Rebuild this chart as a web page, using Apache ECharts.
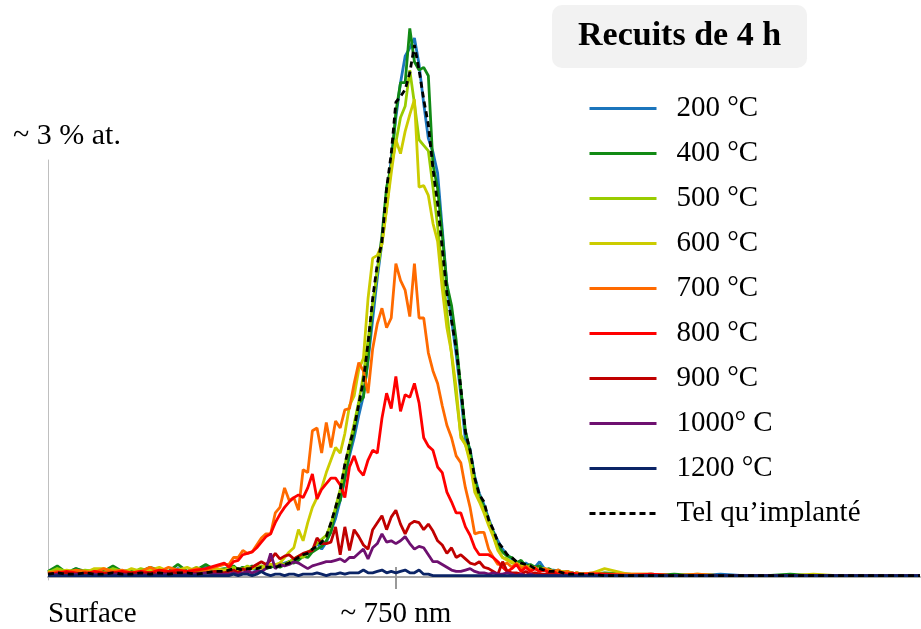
<!DOCTYPE html>
<html>
<head>
<meta charset="utf-8">
<script src="https://cdn.jsdelivr.net/npm/echarts@6/dist/echarts.min.js"></script>
<style>
  html, body { margin: 0; padding: 0; background: #fff; }
  #chart { width: 921px; height: 629px; }
</style>
</head>
<body>
<div id="chart"></div>
<script>
// profondeur (nm)
var depth = [
  0, 20, 40, 60, 80, 100, 120, 140, 160, 180, 200, 220, 240, 260, 280, 300, 320, 340, 360, 380,
  390, 400, 410, 420, 430, 440, 450, 460, 470, 480,
  490, 500, 510, 520, 530, 540, 550, 560, 570, 580,
  590, 600, 610, 620, 630, 640, 650, 660, 670, 680,
  690, 700, 710, 720, 730, 740, 750, 760, 770, 780,
  790, 800, 810, 820, 830, 840, 850, 860, 870, 880,
  890, 900, 910, 920, 930, 940, 950, 960, 970, 980,
  990, 1000, 1010, 1020, 1030, 1040, 1050, 1060, 1070, 1080,
  1090, 1100, 1110, 1120, 1130, 1140, 1150,
  1175, 1200, 1250, 1300, 1350, 1400, 1450, 1500, 1550, 1600, 1650, 1700, 1750, 1800, 1850, 1880
];

// concentrations (% at.)
var c200 = [
  0.03, 0.05, 0.02, 0.06, 0.03, 0.04, 0.03, 0.06, 0.03, 0.04, 0.03, 0.06, 0.04, 0.03, 0.06, 0.04, 0.04, 0.07, 0.04, 0.05,
  0.04, 0.06, 0.05, 0.07, 0.05, 0.06, 0.05, 0.07, 0.06, 0.08,
  0.07, 0.09, 0.1, 0.11, 0.12, 0.14, 0.16, 0.17, 0.19, 0.24,
  0.2, 0.25, 0.33, 0.42, 0.55, 0.7, 0.87, 1.0, 1.16, 1.3,
  1.55, 1.85, 2.15, 2.4, 2.7, 3.0, 3.3, 3.55, 3.74, 3.8,
  3.87, 3.68, 3.4, 3.15, 3.05, 2.9, 2.5, 2.1, 1.85, 1.6,
  1.31, 0.98, 0.92, 0.72, 0.6, 0.52, 0.42, 0.33, 0.26, 0.2,
  0.16, 0.13, 0.11, 0.09, 0.1, 0.08, 0.07, 0.11, 0.06, 0.05,
  0.05, 0.04, 0.04, 0.03, 0.03, 0.02, 0.02,
  0.02, 0.02, 0.01, 0.02, 0.01, 0.01, 0.02, 0.01, 0.01, 0.01, 0.01, 0.01, 0.01, 0.01, 0.01, 0.01
];
var c400 = [
  0.04, 0.08, 0.03, 0.06, 0.04, 0.05, 0.04, 0.08, 0.04, 0.05, 0.04, 0.07, 0.05, 0.04, 0.09, 0.04, 0.05, 0.09, 0.05, 0.06,
  0.06, 0.08, 0.05, 0.07, 0.06, 0.08, 0.06, 0.07, 0.06, 0.07,
  0.08, 0.07, 0.09, 0.11, 0.1, 0.12, 0.15, 0.14, 0.18, 0.2,
  0.22, 0.26, 0.32, 0.48, 0.55, 0.72, 0.9, 1.05, 1.25, 1.29,
  1.57, 1.95, 2.2, 2.45, 2.8, 2.95, 3.34, 3.55, 3.55, 3.94,
  3.7, 3.64, 3.66, 3.6, 2.96, 2.79, 2.46, 2.1, 1.95, 1.7,
  1.35, 1.05, 0.9, 0.7, 0.58, 0.5, 0.4, 0.32, 0.22, 0.18,
  0.15, 0.14, 0.1, 0.12, 0.08, 0.09, 0.07, 0.08, 0.05, 0.06,
  0.04, 0.05, 0.03, 0.04, 0.02, 0.03, 0.02,
  0.02, 0.03, 0.02, 0.01, 0.02, 0.01, 0.01, 0.01, 0.01, 0.02, 0.01, 0.01, 0.01, 0.01, 0.01, 0.01
];
var c500 = [
  0.03, 0.06, 0.04, 0.03, 0.05, 0.04, 0.03, 0.06, 0.04, 0.03, 0.06, 0.04, 0.06, 0.03, 0.05, 0.04, 0.07, 0.04, 0.05, 0.05,
  0.05, 0.07, 0.05, 0.06, 0.08, 0.06, 0.07, 0.08, 0.07, 0.09,
  0.08, 0.1, 0.09, 0.11, 0.13, 0.15, 0.14, 0.18, 0.2, 0.24,
  0.27, 0.3, 0.38, 0.5, 0.63, 0.8, 0.95, 1.1, 1.26, 1.45,
  1.7, 1.95, 2.2, 2.4, 2.65, 2.95, 3.12, 3.3, 3.38, 3.64,
  3.4, 3.14, 3.1, 3.06, 2.8, 2.52, 2.2, 1.9, 1.6, 1.3,
  1.02, 0.95, 0.85, 0.65, 0.55, 0.48, 0.41, 0.3, 0.2, 0.14,
  0.13, 0.1, 0.1, 0.08, 0.07, 0.08, 0.06, 0.05, 0.06, 0.05,
  0.04, 0.04, 0.03, 0.04, 0.03, 0.02, 0.02,
  0.02, 0.02, 0.02, 0.01, 0.01, 0.02, 0.01, 0.01, 0.01, 0.01, 0.01, 0.01, 0.01, 0.01, 0.01, 0.01
];
var c600 = [
  0.04, 0.03, 0.05, 0.04, 0.03, 0.06, 0.06, 0.04, 0.03, 0.06, 0.04, 0.05, 0.07, 0.04, 0.05, 0.07, 0.04, 0.05, 0.06, 0.05,
  0.06, 0.04, 0.06, 0.05, 0.07, 0.06, 0.08, 0.06, 0.09, 0.09,
  0.09, 0.1, 0.14, 0.18, 0.21, 0.34, 0.26, 0.39, 0.5, 0.57,
  0.64, 0.75, 0.84, 0.93, 0.89, 1.03, 1.23, 1.3, 1.49, 1.57,
  2.0, 2.29, 2.31, 2.39, 2.64, 2.9, 3.14, 3.04, 3.2, 3.32,
  3.43, 2.8, 2.81, 2.74, 2.54, 2.41, 2.07, 1.79, 1.61, 1.36,
  1.0, 0.95, 0.82, 0.61, 0.54, 0.46, 0.37, 0.29, 0.19, 0.14,
  0.12, 0.11, 0.09, 0.09, 0.07, 0.06, 0.06, 0.05, 0.06, 0.04,
  0.04, 0.04, 0.04, 0.03, 0.02, 0.03, 0.02,
  0.03, 0.06, 0.02, 0.02, 0.01, 0.01, 0.01, 0.01, 0.01, 0.01, 0.02, 0.01, 0.01, 0.01, 0.01, 0.01
];
var c700 = [
  0.03, 0.04, 0.03, 0.05, 0.04, 0.03, 0.06, 0.04, 0.05, 0.03, 0.04, 0.07, 0.04, 0.07, 0.05, 0.04, 0.06, 0.05, 0.07, 0.09,
  0.09, 0.14, 0.14, 0.19, 0.17, 0.18, 0.23, 0.28, 0.31, 0.31,
  0.46, 0.5, 0.64, 0.55, 0.57, 0.48, 0.77, 0.75, 1.05, 1.07,
  0.89, 1.11, 0.93, 1.12, 1.07, 1.2, 1.21, 1.39, 1.54, 1.48,
  1.32, 1.64, 1.82, 1.93, 1.79, 1.86, 2.25, 2.13, 2.06, 1.87,
  2.25, 1.86, 1.86, 1.61, 1.48, 1.39, 1.23, 1.09, 1.0, 0.87,
  0.82, 0.64, 0.5, 0.31, 0.32, 0.32, 0.2, 0.14, 0.09, 0.09,
  0.1, 0.07, 0.1, 0.06, 0.08, 0.05, 0.07, 0.04, 0.06, 0.05,
  0.04, 0.05, 0.03, 0.04, 0.02, 0.03, 0.02,
  0.03, 0.02, 0.02, 0.02, 0.01, 0.02, 0.01, 0.01, 0.01, 0.01, 0.01, 0.01, 0.01, 0.01, 0.01, 0.01
];
var c800 = [
  0.02, 0.03, 0.04, 0.03, 0.02, 0.04, 0.03, 0.03, 0.04, 0.03, 0.04, 0.03, 0.05, 0.04, 0.05, 0.04, 0.05, 0.06, 0.08, 0.1,
  0.07, 0.11, 0.12, 0.16, 0.17, 0.18, 0.21, 0.25, 0.29, 0.31,
  0.39, 0.45, 0.5, 0.54, 0.57, 0.59, 0.57, 0.64, 0.74, 0.56,
  0.63, 0.67, 0.71, 0.71, 0.66, 0.57, 0.79, 0.87, 0.77, 0.73,
  0.84, 0.91, 0.89, 1.14, 1.32, 1.21, 1.44, 1.19, 1.31, 1.29,
  1.39, 1.25, 1.0, 0.94, 0.91, 0.79, 0.75, 0.61, 0.54, 0.46,
  0.46, 0.36, 0.3, 0.21, 0.16, 0.16, 0.16, 0.14, 0.11, 0.07,
  0.04, 0.06, 0.09, 0.04, 0.07, 0.04, 0.06, 0.04, 0.05, 0.03,
  0.04, 0.02, 0.03, 0.02, 0.03, 0.02, 0.02,
  0.02, 0.02, 0.01, 0.02, 0.01, 0.01, 0.01, 0.01, 0.01, 0.01, 0.01, 0.01, 0.01, 0.01, 0.01, 0.01
];
var c900 = [
  0.02, 0.02, 0.03, 0.02, 0.03, 0.02, 0.02, 0.03, 0.02, 0.03, 0.02, 0.03, 0.02, 0.03, 0.03, 0.02, 0.03, 0.03, 0.04, 0.03,
  0.04, 0.05, 0.03, 0.06, 0.04, 0.07, 0.09, 0.11, 0.09, 0.12,
  0.17, 0.13, 0.15, 0.16, 0.13, 0.15, 0.17, 0.18, 0.19, 0.28,
  0.24, 0.24, 0.25, 0.36, 0.16, 0.36, 0.19, 0.34, 0.29, 0.23,
  0.2, 0.34, 0.39, 0.44, 0.34, 0.43, 0.48, 0.38, 0.31, 0.38,
  0.4, 0.39, 0.34, 0.38, 0.33, 0.26, 0.23, 0.17, 0.21, 0.14,
  0.16, 0.13, 0.1, 0.09, 0.11, 0.07, 0.06, 0.04, 0.02, 0.11,
  0.04, 0.03, 0.03, 0.02, 0.04, 0.02, 0.03, 0.02, 0.02, 0.02,
  0.02, 0.01, 0.02, 0.01, 0.01, 0.01, 0.01,
  0.01, 0.01, 0.01, 0.01, 0.01, 0.01, 0.01, 0.01, 0.01, 0.01, 0.01, 0.01, 0.01, 0.01, 0.01, 0.01
];
var c1000 = [
  0.01, 0.02, 0.01, 0.02, 0.01, 0.02, 0.01, 0.02, 0.02, 0.01, 0.02, 0.01, 0.02, 0.02, 0.01, 0.02, 0.02, 0.03, 0.02, 0.02,
  0.02, 0.03, 0.02, 0.03, 0.04, 0.03, 0.04, 0.04, 0.06, 0.17,
  0.06, 0.09, 0.08, 0.09, 0.11, 0.1, 0.08, 0.06, 0.08, 0.09,
  0.1, 0.11, 0.11, 0.12, 0.13, 0.11, 0.14, 0.14, 0.17, 0.2,
  0.13, 0.21, 0.24, 0.31, 0.25, 0.26, 0.24, 0.26, 0.29, 0.24,
  0.2, 0.22, 0.21, 0.16, 0.11, 0.11, 0.09, 0.07, 0.05, 0.04,
  0.04, 0.05, 0.06, 0.04, 0.03, 0.03, 0.02, 0.03, 0.02, 0.02,
  0.03, 0.02, 0.01, 0.02, 0.01, 0.02, 0.01, 0.01, 0.01, 0.01,
  0.01, 0.01, 0.01, 0.01, 0.01, 0.01, 0.01,
  0.01, 0.01, 0.01, 0.01, 0.01, 0.01, 0.01, 0.01, 0.01, 0.01, 0.01, 0.01, 0.01, 0.01, 0.01, 0.01
];
var c1200 = [
  0.01, 0.01, 0.01, 0.01, 0.01, 0.01, 0.01, 0.01, 0.01, 0.01, 0.01, 0.01, 0.01, 0.01, 0.01, 0.01, 0.01, 0.01, 0.01, 0.01,
  0.01, 0.02, 0.01, 0.02, 0.02, 0.01, 0.02, 0.04, 0.02, 0.01,
  0.02, 0.02, 0.01, 0.02, 0.02, 0.01, 0.02, 0.02, 0.02, 0.03,
  0.02, 0.01, 0.02, 0.02, 0.03, 0.02, 0.03, 0.03, 0.03, 0.05,
  0.03, 0.03, 0.04, 0.05, 0.03, 0.04, 0.03, 0.04, 0.05, 0.03,
  0.03, 0.05, 0.02, 0.02, 0.01, 0.01, 0.01, 0.01, 0.01, 0.01,
  0.01, 0.01, 0.01, 0.01, 0.01, 0.01, 0.01, 0.01, 0.01, 0.01,
  0.01, 0.01, 0.01, 0.01, 0.01, 0.01, 0.01, 0.01, 0.01, 0.01,
  0.01, 0.01, 0.01, 0.01, 0.01, 0.01, 0.01,
  0.01, 0.01, 0.01, 0.01, 0.01, 0.01, 0.01, 0.01, 0.01, 0.01, 0.01, 0.01, 0.01, 0.01, 0.01, 0.01
];
var cImplant = [
  0.02, 0.03, 0.02, 0.02, 0.03, 0.02, 0.02, 0.03, 0.02, 0.02, 0.03, 0.02, 0.03, 0.02, 0.03, 0.03, 0.02, 0.03, 0.04, 0.04,
  0.05, 0.06, 0.06, 0.05, 0.06, 0.06, 0.06, 0.07, 0.07, 0.07,
  0.07, 0.08, 0.09, 0.1, 0.12, 0.14, 0.16, 0.17, 0.2, 0.22,
  0.25, 0.29, 0.39, 0.5, 0.62, 0.81, 0.95, 1.07, 1.24, 1.41,
  1.68, 2.0, 2.25, 2.41, 2.79, 3.04, 3.41, 3.45, 3.5, 3.62,
  3.82, 3.64, 3.43, 3.25, 2.93, 2.68, 2.36, 2.04, 1.84, 1.64,
  1.36, 1.04, 0.91, 0.71, 0.59, 0.54, 0.41, 0.34, 0.25, 0.21,
  0.16, 0.14, 0.11, 0.1, 0.09, 0.08, 0.06, 0.06, 0.05, 0.04,
  0.04, 0.04, 0.03, 0.02, 0.02, 0.02, 0.02,
  0.02, 0.01, 0.01, 0.01, 0.01, 0.01, 0.01, 0.01, 0.01, 0.01, 0.01, 0.01, 0.01, 0.01, 0.01, 0.01
];

var names = ['200 °C', '400 °C', '500 °C', '600 °C', '700 °C', '800 °C', '900 °C', '1000° C', '1200 °C', 'Tel qu’implanté'];
var colors = ['#1b75bc', '#118a14', '#99cc00', '#cccc00', '#ff6a00', '#ff0000', '#c00000', '#6e1070', '#0b2466', '#000000'];
var values = [c200, c400, c500, c600, c700, c800, c900, c1000, c1200, cImplant];

var tickValues = [0, 750];
var tickLabels = ['Surface', '~ 750 nm'];
var yName = '~ 3 % at.';
var titleText = 'Recuits de 4 h';

var font = "'Liberation Serif', 'Times New Roman', serif";

function pairs(vals) {
  return depth.map(function (d, i) { return [d, vals[i]]; });
}

var series = values.map(function (vals, k) {
  var dashed = k === values.length - 1;
  return {
    name: names[k],
    type: 'line',
    xAxisIndex: 0,
    yAxisIndex: 0,
    symbol: 'none',
    data: pairs(vals),
    lineStyle: {
      color: colors[k],
      width: 2.8,
      type: dashed ? [6, 4] : 'solid'
    },
    itemStyle: { color: colors[k] },
    z: 2 + k
  };
});

var chart = echarts.init(document.getElementById('chart'));
chart.setOption({
  animation: false,
  backgroundColor: '#fff',
  title: {
    text: titleText,
    left: 552,
    top: 5,
    backgroundColor: '#f2f2f2',
    borderRadius: 10,
    padding: [14, 26, 15, 26],
    textStyle: { fontFamily: font, fontSize: 34, fontWeight: 'bold', color: '#000', lineHeight: 34 }
  },
  legend: {
    orient: 'vertical',
    left: 583,
    top: 89,
    itemWidth: 67,
    itemHeight: 3,
    itemGap: 16,
    itemStyle: { opacity: 0 },
    lineStyle: { width: 3 },
    textStyle: { fontFamily: font, fontSize: 29, lineHeight: 29, color: '#000', padding: [0, 0, 0, 15] },
    data: names
  },
  grid: [
    { left: 48, right: 1, top: 20, bottom: 49 },
    { left: 48, right: 1, top: 160, bottom: 49 }
  ],
  xAxis: [
    {
      gridIndex: 0, type: 'value', min: 0, max: 1880,
      axisLine: { lineStyle: { color: '#a6a6a6', width: 2 } },
      axisTick: { customValues: [750], length: 12, lineStyle: { color: '#999', width: 2 } },
      splitLine: { show: false },
      axisLabel: {
        customValues: tickValues,
        formatter: function (v) { return tickLabels[tickValues.indexOf(v)]; },
        alignMinLabel: 'left',
        margin: 23,
        fontFamily: font, fontSize: 29, color: '#000'
      }
    },
    {
      gridIndex: 0, type: 'value', min: 0, max: 1880, position: 'bottom', offset: 0,
      axisLine: { show: false },
      axisTick: { inside: true, customValues: [750], length: 10, lineStyle: { color: '#999', width: 2 } },
      axisLabel: { show: false },
      splitLine: { show: false }
    },
    { gridIndex: 1, type: 'value', min: 0, max: 1880, show: false }
  ],
  yAxis: [
    { gridIndex: 0, type: 'value', min: 0, max: 4, show: false },
    {
      gridIndex: 1, type: 'value', min: 0, max: 3,
      axisLine: { show: true, lineStyle: { color: '#bfbfbf', width: 1 } },
      axisTick: { show: false },
      axisLabel: { show: false },
      splitLine: { show: false },
      name: yName,
      nameLocation: 'end',
      nameGap: 9,
      nameTextStyle: { fontFamily: font, fontSize: 30, color: '#000', padding: [0, 0, 0, 38] }
    }
  ],
  series: series
});
</script>
</body>
</html>
